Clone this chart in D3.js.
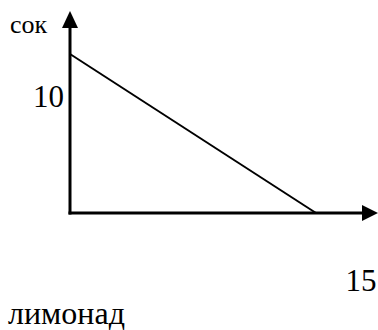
<!DOCTYPE html>
<html lang="ru">
  <head>
    <meta charset="UTF-8" />
    <title>сок / лимонад</title>
    <style>
      body {
        margin: 0;
        background: #fff;
      }
      svg {
        display: block;
      }
    </style>
  </head>
  <body>
    <svg></svg>
    <script src="https://d3js.org/d3.v7.min.js"></script>
    <script>
      // data
      const xName = "лимонад";
      const yName = "сок";
      const lemonade = [0, 15];
      const juice = [10, 0];
      const xTicks = [15];
      const yTicks = [10];

      const width = 378,
        height = 330;
      const font = "'Liberation Serif', 'DejaVu Serif', serif";

      const svg = d3.select("svg").attr("width", width).attr("height", height);

      const x = d3.scaleLinear().domain([0, 15]).range([70, 316]);
      const y = d3.scaleLinear().domain([0, 10]).range([213, 54]);

      const points = lemonade.map((v, i) => [v, juice[i]]);

      // axes with arrow heads
      const x0 = x(0),
        y0 = y(0);

      svg
        .append("line")
        .attr("x1", x0)
        .attr("y1", y0 + 1.5)
        .attr("x2", x0)
        .attr("y2", 28)
        .attr("stroke", "#000")
        .attr("stroke-width", 3);

      svg
        .append("path")
        .attr("d", `M${x0 - 8},28L${x0},11L${x0 + 8},28Z`)
        .attr("fill", "#000");

      svg
        .append("line")
        .attr("x1", x0 - 1.5)
        .attr("y1", y0)
        .attr("x2", 362)
        .attr("y2", y0)
        .attr("stroke", "#000")
        .attr("stroke-width", 3);

      svg
        .append("path")
        .attr("d", `M362,${y0 - 8}L378,${y0}L362,${y0 + 8}Z`)
        .attr("fill", "#000");

      // budget line
      svg
        .append("path")
        .datum(points)
        .attr(
          "d",
          d3
            .line()
            .x((d) => x(d[0]))
            .y((d) => y(d[1]))
        )
        .attr("fill", "none")
        .attr("stroke", "#000")
        .attr("stroke-width", 2);

      // tick labels (placed loosely like the original)
      svg
        .selectAll(".ytick")
        .data(yTicks)
        .join("text")
        .attr("class", "ytick")
        .attr("x", x0 - 6)
        .attr("y", (d) => y(d) + 53)
        .attr("text-anchor", "end")
        .attr("font-family", font)
        .attr("font-size", 31)
        .text((d) => d);

      svg
        .selectAll(".xtick")
        .data(xTicks)
        .join("text")
        .attr("class", "xtick")
        .attr("x", (d) => x(d) + 45)
        .attr("y", y0 + 78)
        .attr("text-anchor", "middle")
        .attr("font-family", font)
        .attr("font-size", 31)
        .text((d) => d);

      // axis names
      svg
        .append("text")
        .attr("x", 10)
        .attr("y", 33)
        .attr("font-family", font)
        .attr("font-size", 26)
        .text(yName);

      svg
        .append("text")
        .attr("x", 8)
        .attr("y", 324)
        .attr("font-family", font)
        .attr("font-size", 32)
        .text(xName);
    </script>
  </body>
</html>
